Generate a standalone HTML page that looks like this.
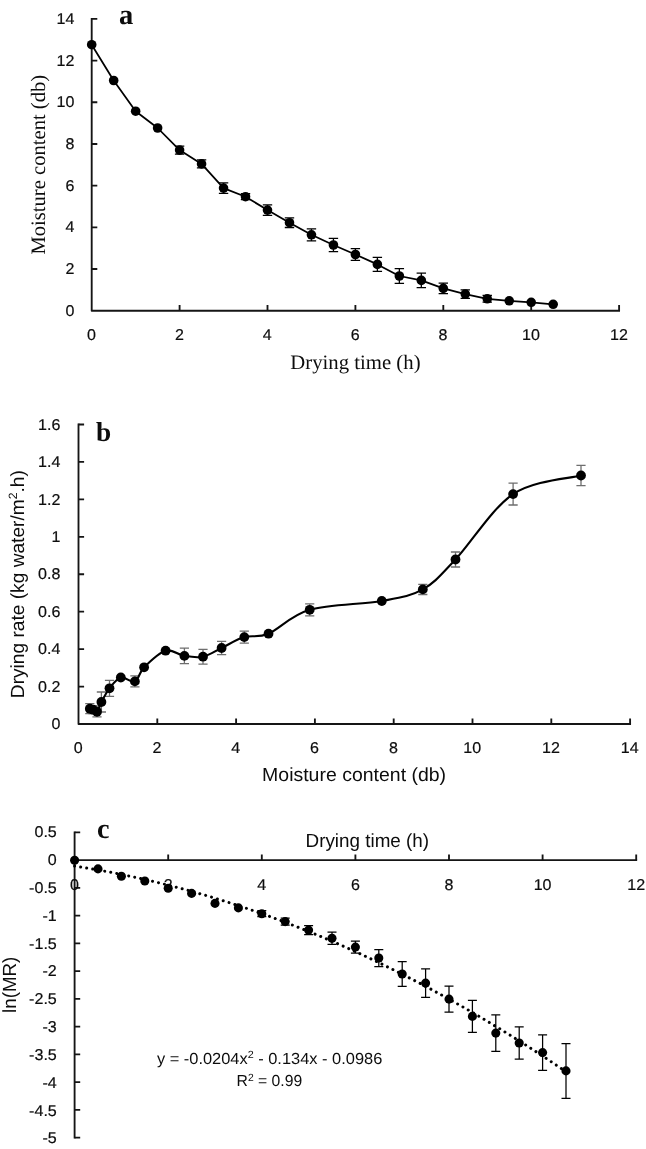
<!DOCTYPE html>
<html lang="en"><head><meta charset="utf-8"><title>Drying curves</title>
<style>
html,body{margin:0;padding:0;background:#fff}
svg{display:block;filter:grayscale(1)}
text{fill:#0d0d0d;text-rendering:geometricPrecision}
.tk{stroke:#0d0d0d;stroke-width:0.2px}
.sans{font-family:'Liberation Sans', Arial, sans-serif}
.serif{font-family:'Liberation Serif', 'Times New Roman', serif}
</style></head>
<body>
<svg width="646" height="1149" viewBox="0 0 646 1149">
<rect width="646" height="1149" fill="#fff"/>
<g id="panelA">
<path d="M91.7 17.97V310.7H620.03" stroke="#151515" stroke-width="1.85" fill="none" stroke-linejoin="round"/>
<path d="M91.7 269.01h5.6M91.7 227.33h5.6M91.7 185.64h5.6M91.7 143.96h5.6M91.7 102.27h5.6M91.7 60.59h5.6M91.7 18.9h5.6M179.6 310.7v-5.6M267.5 310.7v-5.6M355.4 310.7v-5.6M443.3 310.7v-5.6M531.2 310.7v-5.6M619.1 310.7v-5.6" stroke="#151515" stroke-width="1.85" fill="none"/>
<text x="74.4" y="315.85" font-size="15.6" text-anchor="end" class="sans tk" textLength="8.93" lengthAdjust="spacingAndGlyphs">0</text>
<text x="74.4" y="274.16" font-size="15.6" text-anchor="end" class="sans tk" textLength="8.93" lengthAdjust="spacingAndGlyphs">2</text>
<text x="74.4" y="232.48" font-size="15.6" text-anchor="end" class="sans tk" textLength="8.93" lengthAdjust="spacingAndGlyphs">4</text>
<text x="74.4" y="190.79" font-size="15.6" text-anchor="end" class="sans tk" textLength="8.93" lengthAdjust="spacingAndGlyphs">6</text>
<text x="74.4" y="149.11" font-size="15.6" text-anchor="end" class="sans tk" textLength="8.93" lengthAdjust="spacingAndGlyphs">8</text>
<text x="74.4" y="107.42" font-size="15.6" text-anchor="end" class="sans tk" textLength="17.87" lengthAdjust="spacingAndGlyphs">10</text>
<text x="74.4" y="65.74" font-size="15.6" text-anchor="end" class="sans tk" textLength="17.87" lengthAdjust="spacingAndGlyphs">12</text>
<text x="74.4" y="24.05" font-size="15.6" text-anchor="end" class="sans tk" textLength="17.87" lengthAdjust="spacingAndGlyphs">14</text>
<text x="91.5" y="339.7" font-size="15.6" text-anchor="middle" class="sans tk" textLength="8.93" lengthAdjust="spacingAndGlyphs">0</text>
<text x="179.4" y="339.7" font-size="15.6" text-anchor="middle" class="sans tk" textLength="8.93" lengthAdjust="spacingAndGlyphs">2</text>
<text x="267.3" y="339.7" font-size="15.6" text-anchor="middle" class="sans tk" textLength="8.93" lengthAdjust="spacingAndGlyphs">4</text>
<text x="355.2" y="339.7" font-size="15.6" text-anchor="middle" class="sans tk" textLength="8.93" lengthAdjust="spacingAndGlyphs">6</text>
<text x="443.1" y="339.7" font-size="15.6" text-anchor="middle" class="sans tk" textLength="8.93" lengthAdjust="spacingAndGlyphs">8</text>
<text x="531" y="339.7" font-size="15.6" text-anchor="middle" class="sans tk" textLength="17.87" lengthAdjust="spacingAndGlyphs">10</text>
<text x="618.9" y="339.7" font-size="15.6" text-anchor="middle" class="sans tk" textLength="17.87" lengthAdjust="spacingAndGlyphs">12</text>
<path d="M179.6 146.1V154.1M174.9 146.1H184.3M174.9 154.1H184.3" stroke="#000" stroke-width="1.3" fill="none"/>
<path d="M201.57 159.9V167.9M196.88 159.9H206.27M196.88 167.9H206.27" stroke="#000" stroke-width="1.3" fill="none"/>
<path d="M223.55 182.9V193.3M218.85 182.9H228.25M218.85 193.3H228.25" stroke="#000" stroke-width="1.3" fill="none"/>
<path d="M245.53 193.7V199.7M240.83 193.7H250.23M240.83 199.7H250.23" stroke="#000" stroke-width="1.3" fill="none"/>
<path d="M267.5 204.9V215.3M262.8 204.9H272.2M262.8 215.3H272.2" stroke="#000" stroke-width="1.3" fill="none"/>
<path d="M289.48 217.9V227.5M284.78 217.9H294.18M284.78 227.5H294.18" stroke="#000" stroke-width="1.3" fill="none"/>
<path d="M311.45 228.8V240.8M306.75 228.8H316.15M306.75 240.8H316.15" stroke="#000" stroke-width="1.3" fill="none"/>
<path d="M333.43 238.4V251.6M328.73 238.4H338.12M328.73 251.6H338.12" stroke="#000" stroke-width="1.3" fill="none"/>
<path d="M355.4 248.7V260.3M350.7 248.7H360.1M350.7 260.3H360.1" stroke="#000" stroke-width="1.3" fill="none"/>
<path d="M377.38 257.4V271.4M372.68 257.4H382.07M372.68 271.4H382.07" stroke="#000" stroke-width="1.3" fill="none"/>
<path d="M399.35 268.7V283.3M394.65 268.7H404.05M394.65 283.3H404.05" stroke="#000" stroke-width="1.3" fill="none"/>
<path d="M421.32 273.1V287.7M416.62 273.1H426.02M416.62 287.7H426.02" stroke="#000" stroke-width="1.3" fill="none"/>
<path d="M443.3 283.1V293.7M438.6 283.1H448M438.6 293.7H448" stroke="#000" stroke-width="1.3" fill="none"/>
<path d="M465.28 289.8V298.4M460.58 289.8H469.98M460.58 298.4H469.98" stroke="#000" stroke-width="1.3" fill="none"/>
<path d="M487.25 295.5V302.1M482.55 295.5H491.95M482.55 302.1H491.95" stroke="#000" stroke-width="1.3" fill="none"/>
<path d="M91.7 44.7L113.68 80.5L135.65 111.2L157.62 128L179.6 150.1L201.57 163.9L223.55 188.1L245.53 196.7L267.5 210.1L289.48 222.7L311.45 234.8L333.43 245L355.4 254.5L377.38 264.4L399.35 276L421.32 280.4L443.3 288.4L465.28 294.1L487.25 298.8L509.23 300.8L531.2 302.3L553.18 304.3" stroke="#000" stroke-width="1.75" fill="none" stroke-linejoin="round"/>
<circle cx="91.7" cy="44.7" r="4.8"/>
<circle cx="113.68" cy="80.5" r="4.8"/>
<circle cx="135.65" cy="111.2" r="4.8"/>
<circle cx="157.62" cy="128" r="4.8"/>
<circle cx="179.6" cy="150.1" r="4.8"/>
<circle cx="201.57" cy="163.9" r="4.8"/>
<circle cx="223.55" cy="188.1" r="4.8"/>
<circle cx="245.53" cy="196.7" r="4.8"/>
<circle cx="267.5" cy="210.1" r="4.8"/>
<circle cx="289.48" cy="222.7" r="4.8"/>
<circle cx="311.45" cy="234.8" r="4.8"/>
<circle cx="333.43" cy="245" r="4.8"/>
<circle cx="355.4" cy="254.5" r="4.8"/>
<circle cx="377.38" cy="264.4" r="4.8"/>
<circle cx="399.35" cy="276" r="4.8"/>
<circle cx="421.32" cy="280.4" r="4.8"/>
<circle cx="443.3" cy="288.4" r="4.8"/>
<circle cx="465.28" cy="294.1" r="4.8"/>
<circle cx="487.25" cy="298.8" r="4.8"/>
<circle cx="509.23" cy="300.8" r="4.8"/>
<circle cx="531.2" cy="302.3" r="4.8"/>
<circle cx="553.18" cy="304.3" r="4.8"/>
<text x="119" y="24" font-size="28.5" text-anchor="start" class="serif" font-weight="bold">a</text>
<text x="355.4" y="368.9" font-size="20.5" text-anchor="middle" class="serif" textLength="130.3" lengthAdjust="spacingAndGlyphs">Drying time (h)</text>
<text x="44.7" y="164.7" font-size="20.5" text-anchor="middle" class="serif" textLength="179.8" lengthAdjust="spacingAndGlyphs" transform="rotate(-90 44.7 164.7)">Moisture content (db)</text>
</g>
<g id="panelB">
<path d="M78.5 423.57V724H631.02" stroke="#151515" stroke-width="1.85" fill="none" stroke-linejoin="round"/>
<path d="M78.5 686.56h5.6M78.5 649.12h5.6M78.5 611.69h5.6M78.5 574.25h5.6M78.5 536.81h5.6M78.5 499.38h5.6M78.5 461.94h5.6M78.5 424.5h5.6M157.3 724v-5.6M236.1 724v-5.6M314.9 724v-5.6M393.7 724v-5.6M472.5 724v-5.6M551.3 724v-5.6M630.1 724v-5.6" stroke="#151515" stroke-width="1.85" fill="none"/>
<text x="60.4" y="729.15" font-size="15.6" text-anchor="end" class="sans tk" textLength="8.93" lengthAdjust="spacingAndGlyphs">0</text>
<text x="60.4" y="691.71" font-size="15.6" text-anchor="end" class="sans tk" textLength="22.33" lengthAdjust="spacingAndGlyphs">0.2</text>
<text x="60.4" y="654.27" font-size="15.6" text-anchor="end" class="sans tk" textLength="22.33" lengthAdjust="spacingAndGlyphs">0.4</text>
<text x="60.4" y="616.84" font-size="15.6" text-anchor="end" class="sans tk" textLength="22.33" lengthAdjust="spacingAndGlyphs">0.6</text>
<text x="60.4" y="579.4" font-size="15.6" text-anchor="end" class="sans tk" textLength="22.33" lengthAdjust="spacingAndGlyphs">0.8</text>
<text x="60.4" y="541.96" font-size="15.6" text-anchor="end" class="sans tk" textLength="8.93" lengthAdjust="spacingAndGlyphs">1</text>
<text x="60.4" y="504.52" font-size="15.6" text-anchor="end" class="sans tk" textLength="22.33" lengthAdjust="spacingAndGlyphs">1.2</text>
<text x="60.4" y="467.09" font-size="15.6" text-anchor="end" class="sans tk" textLength="22.33" lengthAdjust="spacingAndGlyphs">1.4</text>
<text x="60.4" y="429.65" font-size="15.6" text-anchor="end" class="sans tk" textLength="22.33" lengthAdjust="spacingAndGlyphs">1.6</text>
<text x="78.2" y="753" font-size="15.6" text-anchor="middle" class="sans tk" textLength="8.93" lengthAdjust="spacingAndGlyphs">0</text>
<text x="157" y="753" font-size="15.6" text-anchor="middle" class="sans tk" textLength="8.93" lengthAdjust="spacingAndGlyphs">2</text>
<text x="235.8" y="753" font-size="15.6" text-anchor="middle" class="sans tk" textLength="8.93" lengthAdjust="spacingAndGlyphs">4</text>
<text x="314.6" y="753" font-size="15.6" text-anchor="middle" class="sans tk" textLength="8.93" lengthAdjust="spacingAndGlyphs">6</text>
<text x="393.4" y="753" font-size="15.6" text-anchor="middle" class="sans tk" textLength="8.93" lengthAdjust="spacingAndGlyphs">8</text>
<text x="472.2" y="753" font-size="15.6" text-anchor="middle" class="sans tk" textLength="17.87" lengthAdjust="spacingAndGlyphs">10</text>
<text x="551" y="753" font-size="15.6" text-anchor="middle" class="sans tk" textLength="17.87" lengthAdjust="spacingAndGlyphs">12</text>
<text x="629.8" y="753" font-size="15.6" text-anchor="middle" class="sans tk" textLength="17.87" lengthAdjust="spacingAndGlyphs">14</text>
<path d="M89.8 703.7V713.7M85.2 703.7H94.4M85.2 713.7H94.4" stroke="#6e6e6e" stroke-width="1.3" fill="none"/>
<path d="M93 705.7V713.7M88.4 705.7H97.6M88.4 713.7H97.6" stroke="#6e6e6e" stroke-width="1.3" fill="none"/>
<path d="M97 706.8V716.8M92.4 706.8H101.6M92.4 716.8H101.6" stroke="#6e6e6e" stroke-width="1.3" fill="none"/>
<path d="M101.4 692V712M96.8 692H106M96.8 712H106" stroke="#6e6e6e" stroke-width="1.3" fill="none"/>
<path d="M109.5 680.3V696.3M104.9 680.3H114.1M104.9 696.3H114.1" stroke="#6e6e6e" stroke-width="1.3" fill="none"/>
<path d="M134.9 675.9V686.9M130.3 675.9H139.5M130.3 686.9H139.5" stroke="#6e6e6e" stroke-width="1.3" fill="none"/>
<path d="M184.4 648.2V663.6M179.8 648.2H189M179.8 663.6H189" stroke="#6e6e6e" stroke-width="1.3" fill="none"/>
<path d="M203 649.3V664.1M198.4 649.3H207.6M198.4 664.1H207.6" stroke="#6e6e6e" stroke-width="1.3" fill="none"/>
<path d="M221.6 641.3V654.7M217 641.3H226.2M217 654.7H226.2" stroke="#6e6e6e" stroke-width="1.3" fill="none"/>
<path d="M244.3 631.1V643.1M239.7 631.1H248.9M239.7 643.1H248.9" stroke="#6e6e6e" stroke-width="1.3" fill="none"/>
<path d="M309.7 603.8V615.8M305.1 603.8H314.3M305.1 615.8H314.3" stroke="#6e6e6e" stroke-width="1.3" fill="none"/>
<path d="M422.8 584.3V594.5M418.2 584.3H427.4M418.2 594.5H427.4" stroke="#6e6e6e" stroke-width="1.3" fill="none"/>
<path d="M455.5 552V567M450.9 552H460.1M450.9 567H460.1" stroke="#6e6e6e" stroke-width="1.3" fill="none"/>
<path d="M513.1 483.2V505M508.5 483.2H517.7M508.5 505H517.7" stroke="#6e6e6e" stroke-width="1.3" fill="none"/>
<path d="M581 465.3V485.7M576.4 465.3H585.6M576.4 485.7H585.6" stroke="#6e6e6e" stroke-width="1.3" fill="none"/>
<path d="M89.8 708.7C90.33 708.87 91.8 709.18 93 709.7C94.2 710.22 95.6 713.08 97 711.8C98.4 710.52 99.32 705.92 101.4 702C103.48 698.08 106.27 692.38 109.5 688.3C112.73 684.22 116.57 678.65 120.8 677.5C125.03 676.35 131.02 683.1 134.9 681.4C138.78 679.7 138.98 672.42 144.1 667.3C149.22 662.18 158.88 652.6 165.6 650.7C172.32 648.8 178.17 654.9 184.4 655.9C190.63 656.9 196.8 658.02 203 656.7C209.2 655.38 214.72 651.27 221.6 648C228.48 644.73 236.48 639.48 244.3 637.1C252.12 634.72 257.6 638.25 268.5 633.7C279.4 629.15 290.82 615.25 309.7 609.8C328.58 604.35 362.95 604.4 381.8 601C400.65 597.6 410.52 596.32 422.8 589.4C435.08 582.48 440.45 575.38 455.5 559.5C470.55 543.62 492.18 508.1 513.1 494.1C534.02 480.1 569.68 478.6 581 475.5" stroke="#000" stroke-width="2.1" fill="none" stroke-linejoin="round"/>
<circle cx="89.8" cy="708.7" r="4.9"/>
<circle cx="93" cy="709.7" r="4.9"/>
<circle cx="97" cy="711.8" r="4.9"/>
<circle cx="101.4" cy="702" r="4.9"/>
<circle cx="109.5" cy="688.3" r="4.9"/>
<circle cx="120.8" cy="677.5" r="4.9"/>
<circle cx="134.9" cy="681.4" r="4.9"/>
<circle cx="144.1" cy="667.3" r="4.9"/>
<circle cx="165.6" cy="650.7" r="4.9"/>
<circle cx="184.4" cy="655.9" r="4.9"/>
<circle cx="203" cy="656.7" r="4.9"/>
<circle cx="221.6" cy="648" r="4.9"/>
<circle cx="244.3" cy="637.1" r="4.9"/>
<circle cx="268.5" cy="633.7" r="4.9"/>
<circle cx="309.7" cy="609.8" r="4.9"/>
<circle cx="381.8" cy="601" r="4.9"/>
<circle cx="422.8" cy="589.4" r="4.9"/>
<circle cx="455.5" cy="559.5" r="4.9"/>
<circle cx="513.1" cy="494.1" r="4.9"/>
<circle cx="581" cy="475.5" r="4.9"/>
<text x="96" y="440.6" font-size="27.3" text-anchor="start" class="serif" font-weight="bold">b</text>
<text x="354.1" y="780.7" font-size="19" text-anchor="middle" class="sans" textLength="184" lengthAdjust="spacingAndGlyphs">Moisture content (db)</text>
<text x="23.9" y="584.2" font-size="19" text-anchor="middle" class="sans" textLength="228" lengthAdjust="spacingAndGlyphs" transform="rotate(-90 23.9 584.2)">Drying rate (kg water/m<tspan font-size="12" dy="-6.5">2</tspan><tspan dy="6.5">.h)</tspan></text>
</g>
<g id="panelC">
<path d="M74.6 831.48V1138.58M74.6 860.15H637.12" stroke="#151515" stroke-width="1.85" fill="none" stroke-linejoin="round"/>
<path d="M74.6 832.4h5.6M74.6 887.9h5.6M74.6 915.65h5.6M74.6 943.4h5.6M74.6 971.15h5.6M74.6 998.9h5.6M74.6 1026.65h5.6M74.6 1054.4h5.6M74.6 1082.15h5.6M74.6 1109.9h5.6M74.6 1137.65h5.6M168.2 860.15v-5.6M261.8 860.15v-5.6M355.4 860.15v-5.6M449 860.15v-5.6M542.6 860.15v-5.6M636.2 860.15v-5.6" stroke="#151515" stroke-width="1.85" fill="none"/>
<text x="56.8" y="837.4" font-size="15.6" text-anchor="end" class="sans tk" textLength="22.33" lengthAdjust="spacingAndGlyphs">0.5</text>
<text x="56.8" y="865.21" font-size="15.6" text-anchor="end" class="sans tk" textLength="8.93" lengthAdjust="spacingAndGlyphs">0</text>
<text x="56.8" y="893.02" font-size="15.6" text-anchor="end" class="sans tk" textLength="27.69" lengthAdjust="spacingAndGlyphs">-0.5</text>
<text x="56.8" y="920.83" font-size="15.6" text-anchor="end" class="sans tk" textLength="14.28" lengthAdjust="spacingAndGlyphs">-1</text>
<text x="56.8" y="948.64" font-size="15.6" text-anchor="end" class="sans tk" textLength="27.69" lengthAdjust="spacingAndGlyphs">-1.5</text>
<text x="56.8" y="976.45" font-size="15.6" text-anchor="end" class="sans tk" textLength="14.28" lengthAdjust="spacingAndGlyphs">-2</text>
<text x="56.8" y="1004.26" font-size="15.6" text-anchor="end" class="sans tk" textLength="27.69" lengthAdjust="spacingAndGlyphs">-2.5</text>
<text x="56.8" y="1032.07" font-size="15.6" text-anchor="end" class="sans tk" textLength="14.28" lengthAdjust="spacingAndGlyphs">-3</text>
<text x="56.8" y="1059.88" font-size="15.6" text-anchor="end" class="sans tk" textLength="27.69" lengthAdjust="spacingAndGlyphs">-3.5</text>
<text x="56.8" y="1087.69" font-size="15.6" text-anchor="end" class="sans tk" textLength="14.28" lengthAdjust="spacingAndGlyphs">-4</text>
<text x="56.8" y="1115.5" font-size="15.6" text-anchor="end" class="sans tk" textLength="27.69" lengthAdjust="spacingAndGlyphs">-4.5</text>
<text x="56.8" y="1143.31" font-size="15.6" text-anchor="end" class="sans tk" textLength="14.28" lengthAdjust="spacingAndGlyphs">-5</text>
<text x="74.6" y="889.55" font-size="15.6" text-anchor="middle" class="sans tk" textLength="8.93" lengthAdjust="spacingAndGlyphs">0</text>
<text x="168.2" y="889.55" font-size="15.6" text-anchor="middle" class="sans tk" textLength="8.93" lengthAdjust="spacingAndGlyphs">2</text>
<text x="261.8" y="889.55" font-size="15.6" text-anchor="middle" class="sans tk" textLength="8.93" lengthAdjust="spacingAndGlyphs">4</text>
<text x="355.4" y="889.55" font-size="15.6" text-anchor="middle" class="sans tk" textLength="8.93" lengthAdjust="spacingAndGlyphs">6</text>
<text x="449" y="889.55" font-size="15.6" text-anchor="middle" class="sans tk" textLength="8.93" lengthAdjust="spacingAndGlyphs">8</text>
<text x="542.6" y="889.55" font-size="15.6" text-anchor="middle" class="sans tk" textLength="17.87" lengthAdjust="spacingAndGlyphs">10</text>
<text x="636.2" y="889.55" font-size="15.6" text-anchor="middle" class="sans tk" textLength="17.87" lengthAdjust="spacingAndGlyphs">12</text>
<path d="M74.6 866.04L77.06 866.42L79.51 866.81L81.97 867.2L84.43 867.6L86.88 868.01L89.34 868.42L91.8 868.84L94.26 869.26L96.71 869.7L99.17 870.13L101.63 870.58L104.08 871.03L106.54 871.49L109 871.95L111.45 872.42L113.91 872.9L116.37 873.39L118.83 873.88L121.28 874.37L123.74 874.88L126.2 875.39L128.65 875.9L131.11 876.43L133.57 876.96L136.02 877.49L138.48 878.04L140.94 878.59L143.4 879.14L145.85 879.7L148.31 880.27L150.77 880.85L153.22 881.43L155.68 882.02L158.14 882.61L160.59 883.22L163.05 883.82L165.51 884.44L167.97 885.06L170.42 885.69L172.88 886.32L175.34 886.96L177.79 887.61L180.25 888.26L182.71 888.92L185.16 889.59L187.62 890.26L190.08 890.94L192.54 891.63L194.99 892.32L197.45 893.02L199.91 893.73L202.36 894.44L204.82 895.16L207.28 895.88L209.73 896.61L212.19 897.35L214.65 898.1L217.11 898.85L219.56 899.61L222.02 900.37L224.48 901.14L226.93 901.92L229.39 902.7L231.85 903.49L234.3 904.29L236.76 905.1L239.22 905.91L241.68 906.72L244.13 907.54L246.59 908.37L249.05 909.21L251.5 910.05L253.96 910.9L256.42 911.76L258.88 912.62L261.33 913.49L263.79 914.36L266.25 915.25L268.7 916.13L271.16 917.03L273.62 917.93L276.07 918.84L278.53 919.75L280.99 920.67L283.44 921.6L285.9 922.53L288.36 923.48L290.82 924.42L293.27 925.38L295.73 926.34L298.19 927.3L300.64 928.28L303.1 929.25L305.56 930.24L308.01 931.23L310.47 932.23L312.93 933.24L315.39 934.25L317.84 935.27L320.3 936.29L322.76 937.33L325.21 938.36L327.67 939.41L330.13 940.46L332.59 941.52L335.04 942.58L337.5 943.65L339.96 944.73L342.41 945.81L344.87 946.9L347.33 948L349.78 949.1L352.24 950.21L354.7 951.33L357.15 952.45L359.61 953.58L362.07 954.72L364.53 955.86L366.98 957.01L369.44 958.17L371.9 959.33L374.35 960.5L376.81 961.67L379.27 962.85L381.73 964.04L384.18 965.24L386.64 966.44L389.1 967.64L391.55 968.86L394.01 970.08L396.47 971.31L398.92 972.54L401.38 973.78L403.84 975.03L406.29 976.28L408.75 977.54L411.21 978.81L413.67 980.08L416.12 981.36L418.58 982.64L421.04 983.94L423.49 985.24L425.95 986.54L428.41 987.85L430.87 989.17L433.32 990.5L435.78 991.83L438.24 993.17L440.69 994.51L443.15 995.86L445.61 997.22L448.06 998.58L450.52 999.95L452.98 1001.33L455.43 1002.72L457.89 1004.11L460.35 1005.5L462.81 1006.91L465.26 1008.31L467.72 1009.73L470.18 1011.15L472.63 1012.58L475.09 1014.02L477.55 1015.46L480 1016.91L482.46 1018.37L484.92 1019.83L487.38 1021.3L489.83 1022.77L492.29 1024.25L494.75 1025.74L497.2 1027.23L499.66 1028.74L502.12 1030.24L504.57 1031.76L507.03 1033.28L509.49 1034.8L511.95 1036.34L514.4 1037.88L516.86 1039.42L519.32 1040.98L521.77 1042.54L524.23 1044.1L526.69 1045.68L529.14 1047.26L531.6 1048.84L534.06 1050.43L536.52 1052.03L538.97 1053.64L541.43 1055.25L543.89 1056.87L546.34 1058.49L548.8 1060.12L551.26 1061.76L553.72 1063.41L556.17 1065.06L558.63 1066.71L561.09 1068.38L563.54 1070.05L566 1071.72" stroke="#000" stroke-width="3" stroke-dasharray="0.01 6.1" stroke-linecap="round" fill="none"/>
<path d="M261.8 910.7V916.7M257.3 910.7H266.3M257.3 916.7H266.3" stroke="#000" stroke-width="1.25" fill="none"/>
<path d="M285.2 918.1V925.1M280.7 918.1H289.7M280.7 925.1H289.7" stroke="#000" stroke-width="1.25" fill="none"/>
<path d="M308.6 925.7V934.5M304.1 925.7H313.1M304.1 934.5H313.1" stroke="#000" stroke-width="1.25" fill="none"/>
<path d="M332 932.1V944.3M327.5 932.1H336.5M327.5 944.3H336.5" stroke="#000" stroke-width="1.25" fill="none"/>
<path d="M355.4 941V953.2M350.9 941H359.9M350.9 953.2H359.9" stroke="#000" stroke-width="1.25" fill="none"/>
<path d="M378.8 949.5V966.5M374.3 949.5H383.3M374.3 966.5H383.3" stroke="#000" stroke-width="1.25" fill="none"/>
<path d="M402.2 961.7V986.3M397.7 961.7H406.7M397.7 986.3H406.7" stroke="#000" stroke-width="1.25" fill="none"/>
<path d="M425.6 968.8V997.4M421.1 968.8H430.1M421.1 997.4H430.1" stroke="#000" stroke-width="1.25" fill="none"/>
<path d="M449 986V1012.2M444.5 986H453.5M444.5 1012.2H453.5" stroke="#000" stroke-width="1.25" fill="none"/>
<path d="M472.4 1000.4V1032.4M467.9 1000.4H476.9M467.9 1032.4H476.9" stroke="#000" stroke-width="1.25" fill="none"/>
<path d="M495.8 1014.9V1051.3M491.3 1014.9H500.3M491.3 1051.3H500.3" stroke="#000" stroke-width="1.25" fill="none"/>
<path d="M519.2 1026.8V1059.2M514.7 1026.8H523.7M514.7 1059.2H523.7" stroke="#000" stroke-width="1.25" fill="none"/>
<path d="M542.6 1034.9V1070.3M538.1 1034.9H547.1M538.1 1070.3H547.1" stroke="#000" stroke-width="1.25" fill="none"/>
<path d="M566 1043.5V1098.3M561.5 1043.5H570.5M561.5 1098.3H570.5" stroke="#000" stroke-width="1.25" fill="none"/>
<circle cx="74.6" cy="860.2" r="4.55"/>
<circle cx="98" cy="868.9" r="4.55"/>
<circle cx="121.4" cy="876.3" r="4.55"/>
<circle cx="144.8" cy="881" r="4.55"/>
<circle cx="168.2" cy="888.2" r="4.55"/>
<circle cx="191.6" cy="893.4" r="4.55"/>
<circle cx="215" cy="903.4" r="4.55"/>
<circle cx="238.4" cy="907.9" r="4.55"/>
<circle cx="261.8" cy="913.7" r="4.55"/>
<circle cx="285.2" cy="921.6" r="4.55"/>
<circle cx="308.6" cy="930.1" r="4.55"/>
<circle cx="332" cy="938.2" r="4.55"/>
<circle cx="355.4" cy="947.1" r="4.55"/>
<circle cx="378.8" cy="958" r="4.55"/>
<circle cx="402.2" cy="974" r="4.55"/>
<circle cx="425.6" cy="983.1" r="4.55"/>
<circle cx="449" cy="999.1" r="4.55"/>
<circle cx="472.4" cy="1016.4" r="4.55"/>
<circle cx="495.8" cy="1033.1" r="4.55"/>
<circle cx="519.2" cy="1043" r="4.55"/>
<circle cx="542.6" cy="1052.6" r="4.55"/>
<circle cx="566" cy="1070.9" r="4.55"/>
<text x="97" y="837.6" font-size="28.2" text-anchor="start" class="serif" font-weight="bold">c</text>
<text x="367.3" y="847.2" font-size="19" text-anchor="middle" class="sans" textLength="123.5" lengthAdjust="spacingAndGlyphs">Drying time (h)</text>
<text x="16.1" y="984.8" font-size="19" text-anchor="middle" class="sans" textLength="56.3" lengthAdjust="spacingAndGlyphs" transform="rotate(-90 16.1 984.8)">ln(MR)</text>
<text x="269.6" y="1063.8" font-size="16" text-anchor="middle" class="sans" textLength="225.4" lengthAdjust="spacingAndGlyphs">y = -0.0204x<tspan font-size="10.5" dy="-5.5">2</tspan><tspan dy="5.5"> - 0.134x - 0.0986</tspan></text>
<text x="269.4" y="1086.4" font-size="16" text-anchor="middle" class="sans" textLength="65.6" lengthAdjust="spacingAndGlyphs">R<tspan font-size="10.5" dy="-5.5">2</tspan><tspan dy="5.5"> = 0.99</tspan></text>
</g>
</svg>
</body></html>
